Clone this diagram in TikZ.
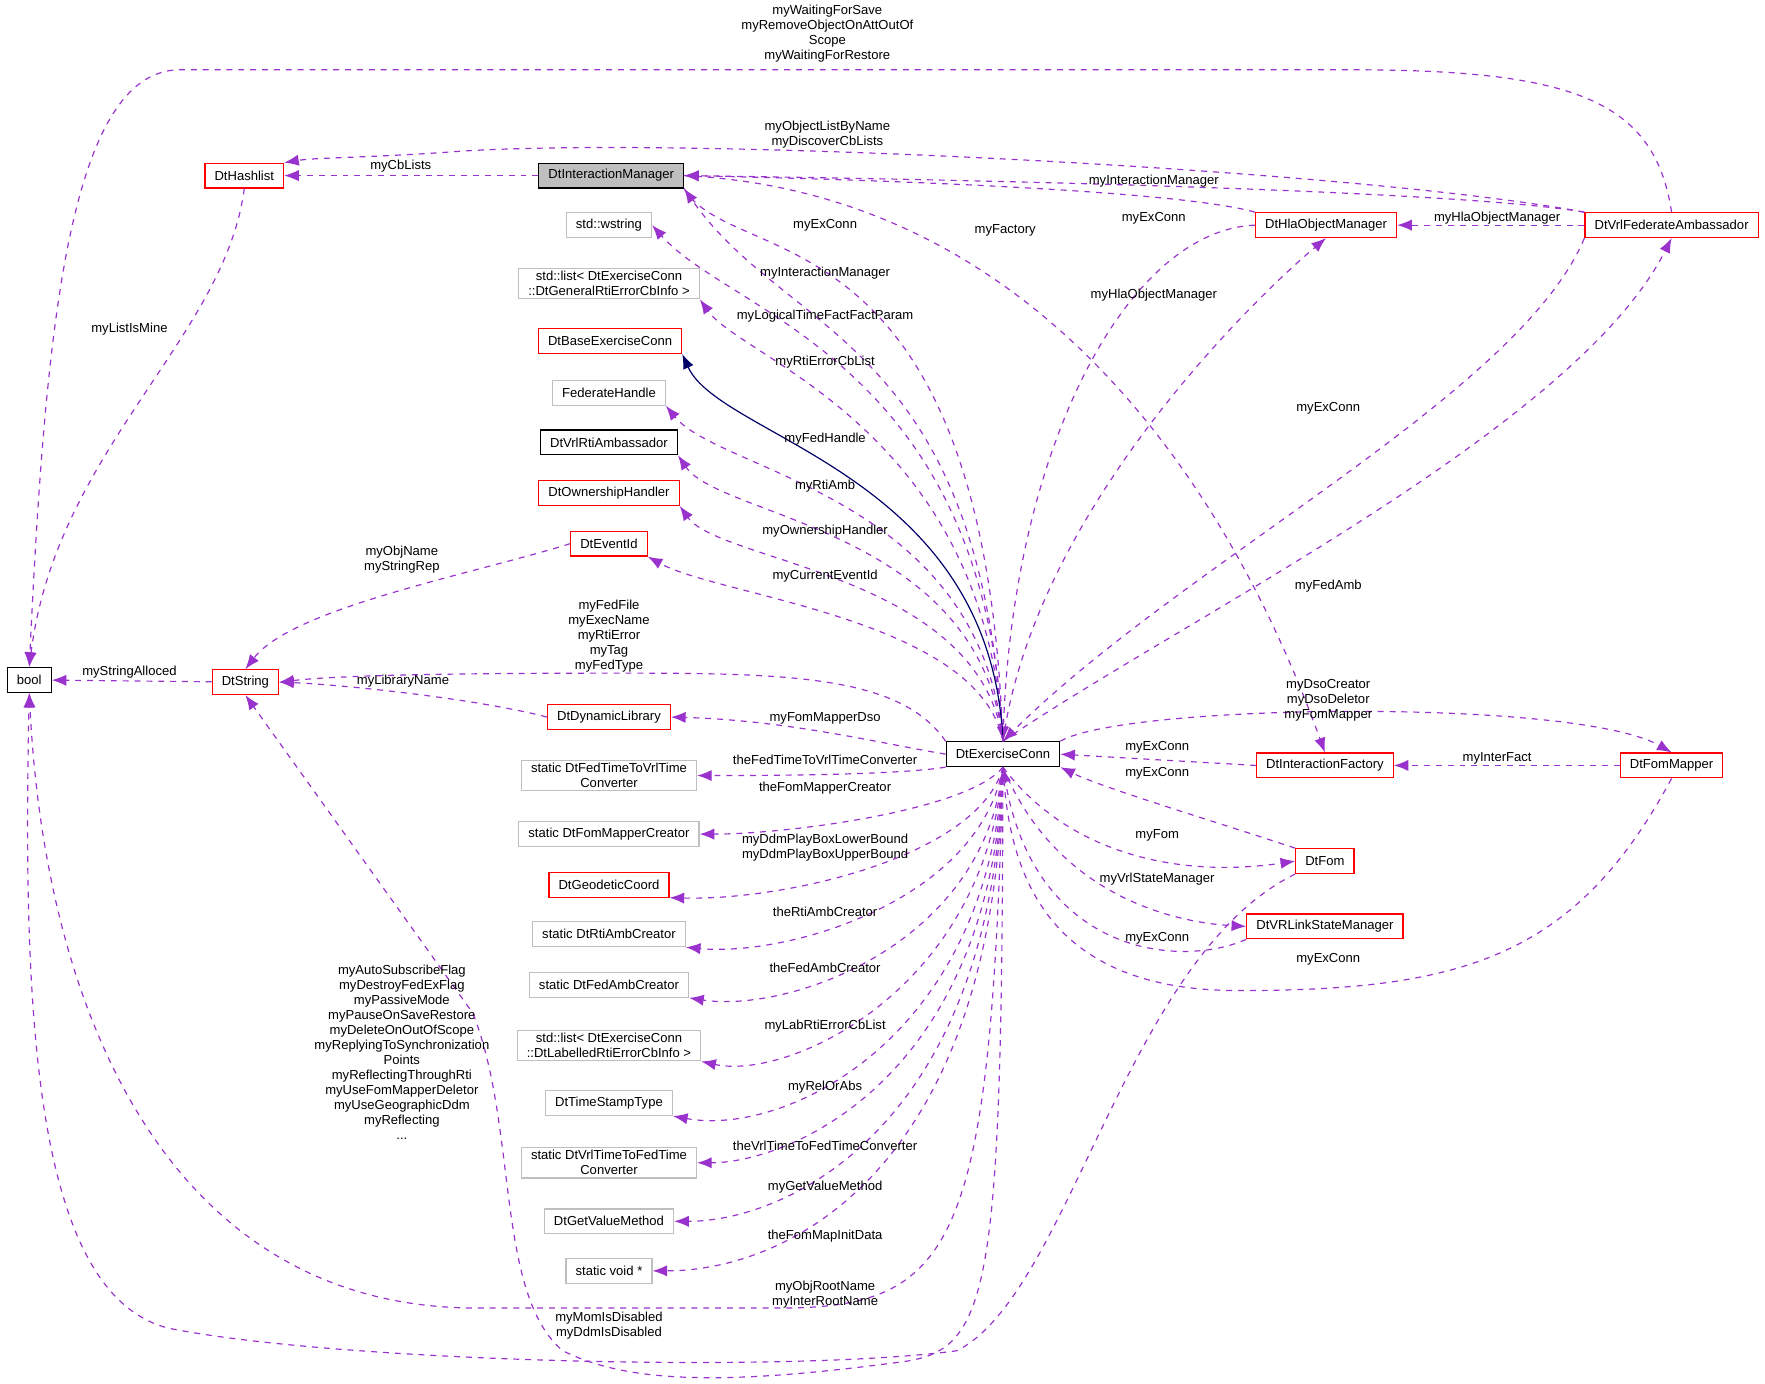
\documentclass[tikz,border=0pt]{standalone}
\usepackage{fontspec}
\setmainfont{Liberation Sans}
\usetikzlibrary{arrows.meta,positioning,calc}
\definecolor{memcol}{RGB}{154,50,205}
\definecolor{boxgray}{RGB}{191,191,191}
\tikzset{
    cls/.style={draw, rectangle, semithick, minimum height=0.44cm, inner xsep=0.17cm, inner ysep=0.05cm, align=center, font=\fontsize{6.6}{7.6}\selectfont},
    red cls/.style={cls, draw=red},
    ext cls/.style={cls, draw=boxgray},
    use/.style={-{Latex[length=2.6mm, width=2mm]}, memcol, dashed, semithick},
    inherit/.style={-{Latex[length=2.6mm, width=2mm]}, blue!40!black, semithick},
    lbl/.style={align=center, font=\fontsize{6.6}{7.6}\selectfont}
}
\begin{document}
\begin{tikzpicture}[x=0.02cm, y=0.02cm]
    \useasboundingbox (0,0) rectangle (1568,-1229);

    % left hand side
    \node[cls] (bool) at (26,-604) {bool};
    \node[red cls] (dtString) at (218,-606) {DtString};
    \node[red cls] (dtHashlist) at (217,-156) {DtHashlist};
    \node[cls, fill=boxgray] (intMgr) at (543,-156) {DtInteractionManager};

    % member column
    \node[ext cls] (wstring) at (541,-200) {std::wstring};
    \node[ext cls] (genList) at (541,-252) {std::list\textless{} DtExerciseConn\\::DtGeneralRtiErrorCbInfo \textgreater};
    \node[red cls] (baseConn) at (542,-303) {DtBaseExerciseConn};
    \node[ext cls] (fedHandle) at (541,-349) {FederateHandle};
    \node[cls] (rtiAmb) at (541,-393) {DtVrlRtiAmbassador};
    \node[red cls] (ownHandler) at (541,-438) {DtOwnershipHandler};
    \node[red cls] (eventId) at (541,-483) {DtEventId};
    \node[red cls] (dynLib) at (541,-637) {DtDynamicLibrary};
    \node[ext cls] (fedTimeConv) at (541,-689) {static DtFedTimeToVrlTime\\Converter};
    \node[ext cls] (fomMapCreator) at (541,-741) {static DtFomMapperCreator};
    \node[red cls] (geoCoord) at (541,-786) {DtGeodeticCoord};
    \node[ext cls] (rtiAmbCreator) at (541,-830) {static DtRtiAmbCreator};
    \node[ext cls] (fedAmbCreator) at (541,-875) {static DtFedAmbCreator};
    \node[ext cls] (labList) at (541,-929) {std::list\textless{} DtExerciseConn\\::DtLabelledRtiErrorCbInfo \textgreater};
    \node[ext cls] (timeStamp) at (541,-980) {DtTimeStampType};
    \node[ext cls] (vrlTimeConv) at (541,-1033) {static DtVrlTimeToFedTime\\Converter};
    \node[ext cls] (getValue) at (541,-1085) {DtGetValueMethod};
    \node[ext cls] (voidPtr) at (541,-1129) {static void *};

    % right hand side
    \node[cls] (exConn) at (891,-670) {DtExerciseConn};
    \node[red cls] (hlaMgr) at (1178,-200) {DtHlaObjectManager};
    \node[red cls] (fedAmb) at (1485,-200) {DtVrlFederateAmbassador};
    \node[red cls] (intFactory) at (1177,-680) {DtInteractionFactory};
    \node[red cls] (fomMapper) at (1485,-680) {DtFomMapper};
    \node[red cls] (dtFom) at (1177,-765) {DtFom};
    \node[red cls] (stateMgr) at (1177,-823) {DtVRLinkStateManager};

    % top edges
    \draw[use] (fedAmb.north) .. controls (1470,-90) and (1400,-62) .. (1200,-62) -- (160,-62) .. controls (60,-62) and (40,-300) .. (bool.north);
    \draw[use] (fedAmb.north west) .. controls (1200,-150) and (600,-120) .. (400,-135) .. controls (330,-140) and (280,-140) .. (dtHashlist.north east);
    \draw[use] (fedAmb.north west) .. controls (1300,-170) and (900,-160) .. (intMgr.east);
    \draw[use] (hlaMgr.north west) .. controls (1050,-170) and (800,-160) .. (intMgr.east);
    \draw[use] (intMgr) -- (dtHashlist);
    \draw[use] (fedAmb) -- (hlaMgr);
    \draw[use] (hlaMgr.west) .. controls (1000,-205) and (900,-400) .. (exConn.north);
    \draw[use] (exConn.north) .. controls (920,-450) and (1120,-260) .. (hlaMgr.south);
    \draw[use] (fedAmb.south west) .. controls (1350,-350) and (1050,-500) .. (exConn.north);
    \draw[use] (exConn.north) .. controls (1050,-550) and (1400,-380) .. (fedAmb.south);
    \draw[use] (intMgr.east) .. controls (900,-170) and (1080,-400) .. (intFactory.north);

    \node[lbl] (l1) at (735,-30) {myWaitingForSave\\myRemoveObjectOnAttOutOf\\Scope\\myWaitingForRestore};
    \node[lbl] (l2) at (735,-120) {myObjectListByName\\myDiscoverCbLists};
    \node[lbl] (l3) at (1025,-161) {myInteractionManager};
    \node[lbl] (l4) at (356,-148) {myCbLists};
    \node[lbl] (l5) at (1330,-194) {myHlaObjectManager};
    \node[lbl] (l6) at (1025,-194) {myExConn};
    \node[lbl] (l7) at (1025,-262) {myHlaObjectManager};
    \node[lbl] (l8) at (1180,-363) {myExConn};
    \node[lbl] (l9) at (1180,-521) {myFedAmb};
    \node[lbl] (l10) at (893,-205) {myFactory};

    % left edges
    \draw[use] (dtHashlist.south) .. controls (200,-300) and (50,-400) .. (bool.north);
    \draw[use] (dtString) -- (bool);
    \draw[use] (eventId.west) .. controls (420,-510) and (260,-540) .. (dtString.north);
    \draw[use] (dynLib.west) .. controls (420,-620) and (300,-608) .. (dtString.east);
    \draw[use] (exConn.north west) .. controls (800,-600) and (700,-598) .. (550,-598) .. controls (400,-598) and (300,-600) .. (dtString.east);

    \node[lbl] (l11) at (115,-292) {myListIsMine};
    \node[lbl] (l12) at (115,-597) {myStringAlloced};
    \node[lbl] (l13) at (357,-497) {myObjName\\myStringRep};
    \node[lbl] (l14) at (358,-605) {myLibraryName};
    \node[lbl] (l15) at (541,-565) {myFedFile\\myExecName\\myRtiError\\myTag\\myFedType};

    % members of DtExerciseConn above it
    \draw[use] (intMgr.south east) .. controls (650,-240) and (870,-180) .. (exConn.north);
    \draw[use] (exConn.north) .. controls (870,-300) and (700,-300) .. (intMgr.south east);
    \draw[use] (exConn.north) .. controls (875,-320) and (650,-280) .. (wstring.east);
    \draw[use] (exConn.north) .. controls (875,-380) and (660,-320) .. (genList.south east);
    \draw[inherit] (exConn.north) .. controls (880,-420) and (640,-390) .. (baseConn.south east);
    \draw[use] (exConn.north) .. controls (870,-440) and (640,-420) .. (fedHandle.south east);
    \draw[use] (exConn.north) .. controls (870,-470) and (640,-460) .. (rtiAmb.south east);
    \draw[use] (exConn.north) .. controls (870,-510) and (640,-500) .. (ownHandler.south east);
    \draw[use] (exConn.north) .. controls (870,-550) and (640,-530) .. (eventId.south east);

    \node[lbl] (l16) at (733,-200) {myExConn};
    \node[lbl] (l17) at (733,-243) {myInteractionManager};
    \node[lbl] (l18) at (733,-281) {myLogicalTimeFactFactParam};
    \node[lbl] (l19) at (733,-322) {myRtiErrorCbList};
    \node[lbl] (l20) at (733,-390) {myFedHandle};
    \node[lbl] (l21) at (733,-432) {myRtiAmb};
    \node[lbl] (l22) at (733,-472) {myOwnershipHandler};
    \node[lbl] (l23) at (733,-512) {myCurrentEventId};

    % members of DtExerciseConn below it
    \draw[use] (exConn.west) .. controls (780,-660) and (700,-640) .. (dynLib.east);
    \draw[use] (exConn.south west) .. controls (800,-688) and (700,-689) .. (fedTimeConv.east);
    \draw[use] (exConn.south) .. controls (860,-720) and (700,-741) .. (fomMapCreator.east);
    \draw[use] (exConn.south) .. controls (870,-760) and (700,-800) .. (geoCoord.south east);
    \draw[use] (exConn.south) .. controls (870,-800) and (700,-850) .. (rtiAmbCreator.south east);
    \draw[use] (exConn.south) .. controls (875,-840) and (700,-900) .. (fedAmbCreator.south east);
    \draw[use] (exConn.south) .. controls (875,-880) and (700,-960) .. (labList.south east);
    \draw[use] (exConn.south) .. controls (878,-920) and (700,-1010) .. (timeStamp.south east);
    \draw[use] (exConn.south) .. controls (880,-960) and (700,-1033) .. (vrlTimeConv.east);
    \draw[use] (exConn.south) .. controls (882,-1000) and (700,-1085) .. (getValue.east);
    \draw[use] (exConn.south) .. controls (884,-1040) and (700,-1129) .. (voidPtr.east);
    \draw[use] (exConn.south) .. controls (880,-1100) and (850,-1160) .. (700,-1162) -- (420,-1162) .. controls (150,-1160) and (40,-900) .. (bool.south);
    \draw[use] (exConn.south) .. controls (890,-1150) and (880,-1200) .. (800,-1210) .. controls (650,-1230) and (560,-1230) .. (500,-1200) .. controls (440,-1150) and (460,-1000) .. (420,-900) -- (dtString.south);

    \node[lbl] (l24) at (733,-638) {myFomMapperDso};
    \node[lbl] (l25) at (733,-675) {theFedTimeToVrlTimeConverter};
    \node[lbl] (l26) at (733,-700) {theFomMapperCreator};
    \node[lbl] (l27) at (733,-753) {myDdmPlayBoxLowerBound\\myDdmPlayBoxUpperBound};
    \node[lbl] (l28) at (733,-810) {theRtiAmbCreator};
    \node[lbl] (l29) at (733,-860) {theFedAmbCreator};
    \node[lbl] (l30) at (733,-912) {myLabRtiErrorCbList};
    \node[lbl] (l31) at (733,-966) {myRelOrAbs};
    \node[lbl] (l32) at (733,-1018) {theVrlTimeToFedTimeConverter};
    \node[lbl] (l33) at (733,-1055) {myGetValueMethod};
    \node[lbl] (l34) at (733,-1098) {theFomMapInitData};
    \node[lbl] (l35) at (733,-1150) {myObjRootName\\myInterRootName};
    \node[lbl] (l36) at (357,-935) {myAutoSubscribeFlag\\myDestroyFedExFlag\\myPassiveMode\\myPauseOnSaveRestore\\myDeleteOnOutOfScope\\myReplyingToSynchronization\\Points\\myReflectingThroughRti\\myUseFomMapperDeletor\\myUseGeographicDdm\\myReflecting\\...};
    \node[lbl] (l37) at (541,-1178) {myMomIsDisabled\\myDdmIsDisabled};

    % right lower edges
    \draw[use] (intFactory.west) -- (exConn.east);
    \draw[use] (fomMapper) -- (intFactory);
    \draw[use] (exConn.north east) .. controls (1000,-625) and (1400,-620) .. (fomMapper.north);
    \draw[use] (dtFom.north west) .. controls (1080,-730) and (980,-700) .. (exConn.south east);
    \draw[use] (exConn.south) .. controls (950,-760) and (1050,-780) .. (dtFom.west);
    \draw[use] (exConn.south) .. controls (940,-800) and (1050,-820) .. (stateMgr.west);
    \draw[use] (stateMgr.south west) .. controls (1050,-860) and (920,-850) .. (exConn.south);
    \draw[use] (fomMapper.south) .. controls (1400,-850) and (1300,-880) .. (1100,-880) .. controls (950,-880) and (900,-800) .. (exConn.south);
    \draw[use] (dtFom.south west) .. controls (1000,-850) and (950,-1150) .. (850,-1200) .. controls (700,-1220) and (300,-1210) .. (150,-1180) .. controls (30,-1150) and (20,-900) .. (bool.south);

    \node[lbl] (l38) at (1028,-664) {myExConn};
    \node[lbl] (l39) at (1028,-687) {myExConn};
    \node[lbl] (l40) at (1028,-742) {myFom};
    \node[lbl] (l41) at (1028,-781) {myVrlStateManager};
    \node[lbl] (l42) at (1028,-834) {myExConn};
    \node[lbl] (l43) at (1180,-852) {myExConn};
    \node[lbl] (l44) at (1180,-622) {myDsoCreator\\myDsoDeletor\\myFomMapper};
    \node[lbl] (l45) at (1330,-674) {myInterFact};
\end{tikzpicture}
\end{document}
